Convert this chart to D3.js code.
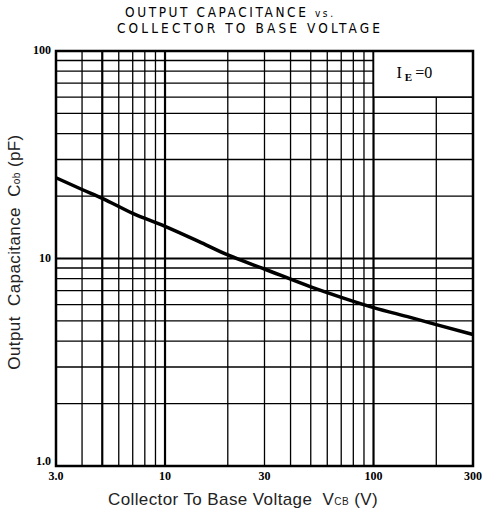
<!DOCTYPE html>
<html>
<head>
<meta charset="utf-8">
<script src="https://cdn.jsdelivr.net/npm/d3@7"></script>
<style>
  body { margin: 0; background: #fff; }
  svg { display: block; }
</style>
</head>
<body>
<div class="container"></div>
<script>
const width = 485;
const height = 510;
const margin = { left: 56, right: 12, top: 51, bottom: 44 };

// curve (I_E = 0)
const voltage = [3, 4, 5, 7, 10, 15, 20, 30, 50, 70, 100, 150, 200, 300];
const capacitance = [24.5, 21.5, 19.5, 16.5, 14.3, 11.9, 10.4, 8.9, 7.3, 6.5, 5.8, 5.2, 4.8, 4.3];

const xTicks = [3, 10, 30, 100, 300];
const xTickLabels = ['3.0', '10', '30', '100', '300'];
const yTicks = [1, 10, 100];
const yTickLabels = ['1.0', '10', '100'];

const xGrid = [4, 5, 6, 7, 8, 9, 10, 20, 30, 40, 50, 60, 70, 80, 90, 100, 200];
const yGrid = [2, 3, 4, 5, 6, 7, 8, 9, 10, 20, 30, 40, 50, 60, 70, 80, 90];
const heavyX = [5, 10, 100];

const x = d3.scaleLog().domain([3, 300]).range([margin.left, width - margin.right]);
const y = d3.scaleLog().domain([1, 100]).range([height - margin.bottom, margin.top]);

const svg = d3.select('.container')
    .append('svg')
    .attr('width', width)
    .attr('height', height);

// title, stretched to the width of the old typewriter caps
const titleFont = 'Liberation Sans Narrow, DejaVu Sans Condensed, Liberation Sans, sans-serif';
const t1 = svg.append('text')
    .attr('x', 125)
    .attr('y', 17)
    .attr('font-family', titleFont)
    .attr('font-size', 13.5)
    .attr('textLength', 208)
    .attr('lengthAdjust', 'spacing');
t1.append('tspan').text('OUTPUT CAPACITANCE ');
t1.append('tspan').attr('font-size', 10).text('vs.');

svg.append('text')
    .attr('x', 117)
    .attr('y', 33)
    .attr('font-family', titleFont)
    .attr('font-size', 13.5)
    .attr('textLength', 263)
    .attr('lengthAdjust', 'spacing')
    .text('COLLECTOR TO BASE VOLTAGE');

// grid
svg.append('g')
    .selectAll('line')
    .data(xGrid)
    .enter()
    .append('line')
    .attr('x1', d => x(d))
    .attr('x2', d => x(d))
    .attr('y1', y(1))
    .attr('y2', y(100))
    .attr('stroke', '#000')
    .attr('stroke-width', d => heavyX.includes(d) ? 2.2 : 1.3);

svg.append('g')
    .selectAll('line')
    .data(yGrid)
    .enter()
    .append('line')
    .attr('x1', x(3))
    .attr('x2', x(300))
    .attr('y1', d => y(d))
    .attr('y2', d => y(d))
    .attr('stroke', '#000')
    .attr('stroke-width', d => d === 10 ? 2 : 1.3);

// legend box
svg.append('rect')
    .attr('x', x(100))
    .attr('y', y(100))
    .attr('width', x(300) - x(100))
    .attr('height', y(60) - y(100))
    .attr('fill', '#fff')
    .attr('stroke', '#000')
    .attr('stroke-width', 1.5);

const legend = svg.append('text')
    .attr('x', x(100) + 23)
    .attr('y', y(100) + 27)
    .attr('font-family', 'Liberation Serif, serif')
    .attr('font-size', 16)
    .attr('fill', '#000');
legend.append('tspan').text('I');
legend.append('tspan').attr('font-size', 11).attr('font-weight', 'bold').attr('dy', 3).attr('dx', 3).text('E');
legend.append('tspan').attr('dy', -3).attr('dx', 3).text('=0');

// frame
svg.append('rect')
    .attr('x', x(3))
    .attr('y', y(100))
    .attr('width', x(300) - x(3))
    .attr('height', y(1) - y(100))
    .attr('fill', 'none')
    .attr('stroke', '#000')
    .attr('stroke-width', 2.5);

// curve
const line = d3.line()
    .x((d, i) => x(voltage[i]))
    .y(d => y(d))
    .curve(d3.curveMonotoneX);

svg.append('path')
    .datum(capacitance)
    .attr('d', line)
    .attr('fill', 'none')
    .attr('stroke', '#000')
    .attr('stroke-width', 3.5);

// tick labels
svg.append('g')
    .selectAll('text')
    .data(xTicks)
    .enter()
    .append('text')
    .attr('x', d => x(d))
    .attr('y', y(1) + 14)
    .attr('text-anchor', 'middle')
    .attr('font-family', 'Liberation Serif, serif')
    .attr('font-weight', 'bold')
    .attr('font-size', 12)
    .text((d, i) => xTickLabels[i]);

svg.append('g')
    .selectAll('text')
    .data(yTicks)
    .enter()
    .append('text')
    .attr('x', x(3) - 5)
    .attr('y', d => y(d) + (d === 1 ? -1 : 3))
    .attr('text-anchor', 'end')
    .attr('font-family', 'Liberation Serif, serif')
    .attr('font-weight', 'bold')
    .attr('font-size', 12)
    .text((d, i) => yTickLabels[i]);

// axis titles
const xTitle = svg.append('text')
    .attr('x', 243)
    .attr('y', 505)
    .attr('text-anchor', 'middle')
    .attr('font-family', 'Liberation Sans, Arial, sans-serif')
    .attr('font-size', 17)
    .attr('letter-spacing', 0.4)
    .attr('fill', '#222');
xTitle.append('tspan').text('Collector To Base Voltage\u00a0\u00a0V');
xTitle.append('tspan').attr('font-size', 10).text('CB');
xTitle.append('tspan').text(' (V)');

const yTitle = svg.append('text')
    .attr('transform', `translate(20, 252) rotate(-90)`)
    .attr('text-anchor', 'middle')
    .attr('font-family', 'Liberation Sans, Arial, sans-serif')
    .attr('font-size', 17)
    .attr('letter-spacing', 0.4)
    .attr('fill', '#222');
yTitle.append('tspan').text('Output\u00a0\u00a0Capacitance\u00a0\u00a0C');
yTitle.append('tspan').attr('font-size', 10).text('ob');
yTitle.append('tspan').text(' (pF)');
</script>
</body>
</html>
